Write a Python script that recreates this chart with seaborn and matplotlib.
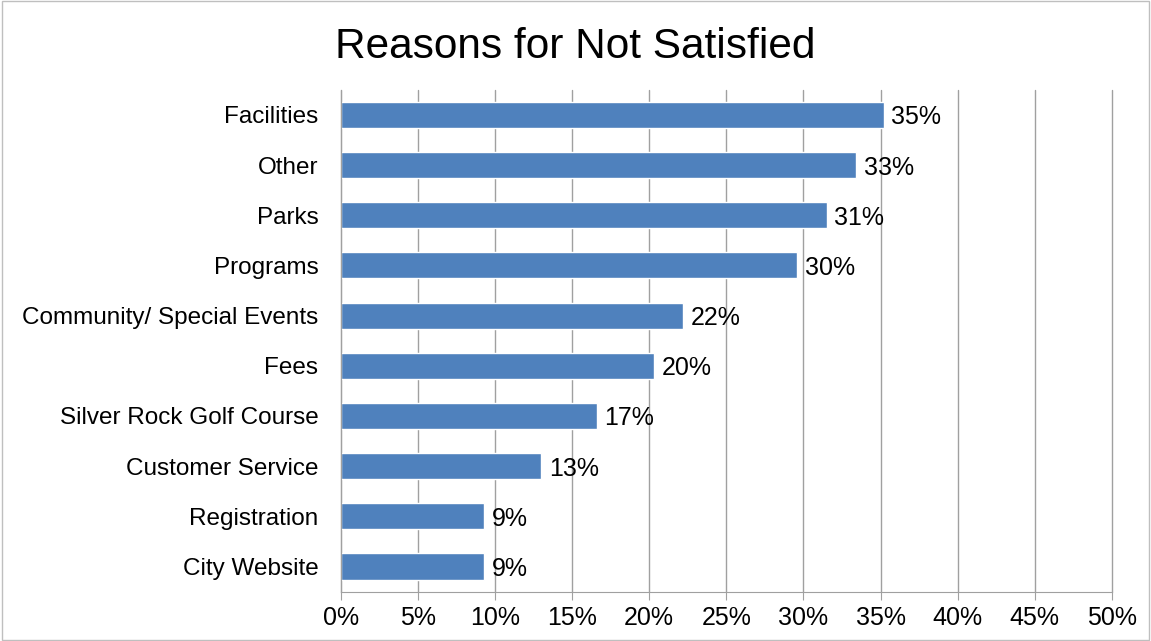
import numpy as np
import pandas as pd
import matplotlib
matplotlib.use("Agg")
import matplotlib.pyplot as plt
import seaborn as sns
from matplotlib.ticker import FuncFormatter

# ===============================
# Data
# ===============================

reasons = ["Facilities", "Other", "Parks", "Programs", "Community/ Special Events",
           "Fees", "Silver Rock Golf Course", "Customer Service", "Registration",
           "City Website"]
pct = [35.2, 33.4, 31.5, 29.6, 22.2, 20.3, 16.6, 13.0, 9.3, 9.3]
labels = ["35%", "33%", "31%", "30%", "22%", "20%", "17%", "13%", "9%", "9%"]

df = pd.DataFrame({"reason": reasons, "pct": pct})

# ===============================
# Plot
# ===============================

sns.set_style("white")
plt.rcParams["font.family"] = ["Liberation Sans", "DejaVu Sans"]
plt.rcParams["text.color"] = "black"

grey = "#A0A0A0"

fig = plt.figure(figsize=(11.51, 6.41), dpi=100)
ax = fig.add_axes([0.296, 0.077, 0.670, 0.783])

sns.barplot(data=df, x="pct", y="reason", orient="h", color="#4F81BD",
            saturation=1, width=0.52, ax=ax)

ax.set_xlim(0, 50)
ax.set_xticks(np.arange(0, 51, 5))
ax.xaxis.set_major_formatter(FuncFormatter(lambda v, p: f"{v:.0f}%"))
ax.grid(axis="x", color=grey, linewidth=1)
for gl in ax.get_xgridlines():
    gl.set_clip_on(False)
ax.set_axisbelow(True)
ax.set_xlabel("")
ax.set_ylabel("")

for s in ["top", "right"]:
    ax.spines[s].set_visible(False)
for s in ["left", "bottom"]:
    ax.spines[s].set_color(grey)

# ticks between categories on y axis
ax.set_yticks(np.arange(len(reasons)))
ax.set_yticklabels(reasons)
ax.set_yticks(np.arange(-0.5, len(reasons), 1), minor=True)
ax.tick_params(axis="y", which="major", length=0, pad=16, labelsize=17.5, labelcolor="black")
ax.tick_params(axis="y", which="minor", length=6, color=grey, direction="out")
ax.tick_params(axis="x", length=6, color=grey, direction="out", labelsize=18,
               labelcolor="black", pad=4, bottom=True)
ax.set_ylim(len(reasons) - 0.5, -0.5)

for i, (v, lab) in enumerate(zip(pct, labels)):
    ax.text(v + 0.5, i + 0.05, lab, va="center", ha="left", fontsize=18, color="black")

fig.suptitle("Reasons for Not Satisfied", fontsize=30.5, y=0.958, color="black")

fig.patches.append(plt.Rectangle((0.002, 0.002), 0.996, 0.996, transform=fig.transFigure,
                                 fill=False, edgecolor="#BFBFBF", linewidth=1))

plt.savefig("out.png", dpi=100)
